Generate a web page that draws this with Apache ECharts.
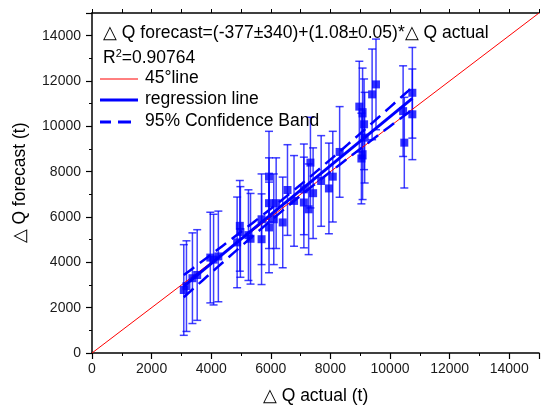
<!DOCTYPE html>
<html>
<head>
<meta charset="utf-8">
<script src="https://cdn.jsdelivr.net/npm/echarts@6/dist/echarts.min.js"></script>
<style>
html,body{margin:0;padding:0;background:#fff;}
#c{width:542px;height:410px;}
</style>
</head>
<body>
<div id="c"></div>
<script>
// ---- data ----
const actual = [3080,3170,3370,3530,3970,4080,4240,4870,4960,4980,5250,5320,5690,5690,5940,5940,5940,6100,6180,6400,6560,6780,7110,7110,7270,7330,7420,7690,7950,8080,8310,8970,9080,9130,9150,9080,9040,9400,9530,10440,10480,10750,10750];
const forecast = [2780,2950,3300,3440,4210,4120,4260,4880,5610,5340,5200,5040,5020,5900,7780,6610,5540,5900,6610,5760,7190,6710,6640,7220,6340,8400,7050,7590,7260,7780,8870,10870,10570,10090,9500,8770,8580,11410,11850,10670,9280,11480,10530];
const forecastErr = [2000,2000,2000,2000,2000,2000,2000,2000,2000,2000,2000,2000,2000,2000,2000,2000,2000,2000,2000,2000,2000,2000,2000,2000,2000,2000,2000,2000,2000,2000,2000,2000,2000,2000,2000,2000,2000,2000,2000,2000,2000,2000,2000];
const fitIntercept = -377;
const fitSlope = 1.08;
const tValue = 2.02;
const xTicks = [0,2000,4000,6000,8000,10000,12000,14000];
const yTicks = [0,2000,4000,6000,8000,10000,12000,14000];
const equationText = '\u25B3 Q forecast=(-377\u00B1340)+(1.08\u00B10.05)*\u25B3 Q actual';
const r2Text = '0.90764';
const legendNames = ['45\u00B0line','regression line','95% Confidence Band'];

// ---- derived: regression line and 95% confidence band ----
const n = actual.length;
const xMean = actual.reduce((a,b)=>a+b,0)/n;
const Sxx = actual.reduce((a,x)=>a+(x-xMean)*(x-xMean),0);
let sse = 0;
for (let i=0;i<n;i++){ const r = forecast[i]-(fitIntercept+fitSlope*actual[i]); sse += r*r; }
const s = Math.sqrt(sse/(n-2));
const xMin = Math.min(...actual), xMax = Math.max(...actual);
const fitLine = [[xMin, fitIntercept+fitSlope*xMin],[xMax, fitIntercept+fitSlope*xMax]];
const upper = [], lower = [];
for (let k=0;k<=60;k++){
  const x = xMin + (xMax-xMin)*k/60;
  const yh = fitIntercept + fitSlope*x;
  const h = tValue*s*Math.sqrt(1/n + (x-xMean)*(x-xMean)/Sxx);
  upper.push([x, yh+h]); lower.push([x, yh-h]);
}

const errData = actual.map((x,i)=>[x, forecast[i]-forecastErr[i], forecast[i]+forecastErr[i]]);
const pts = actual.map((x,i)=>[x, forecast[i]]);

const chart = echarts.init(document.getElementById('c'), null, {renderer:'canvas'});
const FONT = 'Liberation Sans, Arial, sans-serif';
const BLUE = '#0000ff';
const FS = 17.5;

chart.setOption({
  animation:false,
  backgroundColor:'#fff',
  grid:{left:92,right:-7,top:13,bottom:56,containLabel:false},
  xAxis:[{
    type:'value',min:0,max:15000,interval:2000,
    name:'\u25B3 Q actual (t)',nameLocation:'middle',nameGap:34,
    nameTextStyle:{fontFamily:FONT,fontSize:FS,color:'#000'},
    axisLine:{show:true,lineStyle:{color:'#000',width:1.5}},
    axisTick:{show:true,inside:false,length:6,lineStyle:{color:'#000',width:1.2}},
    minorTick:{show:true,splitNumber:2,length:3,lineStyle:{color:'#000',width:1}},
    axisLabel:{fontFamily:FONT,fontSize:14,color:'#1a1a1a',margin:9,
      formatter:v=>xTicks.indexOf(v)>=0?String(v):''},
    splitLine:{show:false}
  },{
    type:'value',min:0,max:15000,interval:1000,position:'top',
    axisLine:{show:true,onZero:false,lineStyle:{color:'#000',width:1.5}},
    axisTick:{show:true,inside:false,length:4,lineStyle:{color:'#000',width:1}},
    axisLabel:{show:false},splitLine:{show:false}
  }],
  yAxis:[{
    type:'value',min:0,max:15000,interval:2000,
    name:'\u25B3 Q forecast (t)',nameLocation:'middle',nameGap:63,
    nameTextStyle:{fontFamily:FONT,fontSize:FS,color:'#000'},
    axisLine:{show:true,lineStyle:{color:'#000',width:1.5}},
    axisTick:{show:true,inside:false,length:6,lineStyle:{color:'#000',width:1.2}},
    minorTick:{show:true,splitNumber:2,length:3,lineStyle:{color:'#000',width:1}},
    axisLabel:{fontFamily:FONT,fontSize:14,color:'#1a1a1a',margin:11,
      formatter:v=>yTicks.indexOf(v)>=0?String(v):''},
    splitLine:{show:false}
  }],
  series:[
    {
      type:'custom', name:'err', data:errData, z:2,
      renderItem:(params, api)=>{
        const x = api.value(0);
        const lo = api.coord([x, api.value(1)]);
        const hi = api.coord([x, api.value(2)]);
        const cw = 4;
        const st = {stroke:BLUE, lineWidth:1.5, opacity:0.75};
        return {type:'group', children:[
          {type:'line', shape:{x1:lo[0],y1:lo[1],x2:hi[0],y2:hi[1]}, style:st},
          {type:'line', shape:{x1:lo[0]-cw,y1:lo[1],x2:lo[0]+cw,y2:lo[1]}, style:st},
          {type:'line', shape:{x1:hi[0]-cw,y1:hi[1],x2:hi[0]+cw,y2:hi[1]}, style:st}
        ]};
      }
    },
    {
      type:'line', name:legendNames[0], data:[[0,0],[15000,15000]], z:3,
      symbol:'none', lineStyle:{color:'#ff0000',width:1}
    },
    {
      type:'scatter', name:'data', data:pts, z:4,
      symbol:'rect', symbolSize:8, itemStyle:{color:BLUE}
    },
    {
      type:'line', name:legendNames[1], data:fitLine, z:5,
      symbol:'none', lineStyle:{color:BLUE,width:3}
    },
    {
      type:'line', name:'upper', data:upper, z:5,
      symbol:'none', lineStyle:{color:BLUE,width:2.5,type:[13,7]}
    },
    {
      type:'line', name:'lower', data:lower, z:5,
      symbol:'none', lineStyle:{color:BLUE,width:2.5,type:[13,7]}
    }
  ],
  graphic:[
    {type:'text', left:103, top:24, z:10, style:{text:equationText, font:FS+'px '+FONT, fill:'#000'}},
    {type:'text', left:103, top:48, z:10, style:{
      text:'R{sup|2}='+r2Text, font:FS+'px '+FONT, fill:'#000',
      rich:{sup:{fontSize:11,fontFamily:FONT,verticalAlign:'top',padding:[0,0,9,0]}}
    }},
    {type:'line', z:10, shape:{x1:100,y1:79,x2:138,y2:79}, style:{stroke:'#ff0000',lineWidth:1}},
    {type:'text', left:145, top:69, z:10, style:{text:legendNames[0], font:FS+'px '+FONT, fill:'#000'}},
    {type:'line', z:10, shape:{x1:100,y1:100,x2:138,y2:100}, style:{stroke:BLUE,lineWidth:3}},
    {type:'text', left:145, top:90, z:10, style:{text:legendNames[1], font:FS+'px '+FONT, fill:'#000'}},
    {type:'line', z:10, shape:{x1:100,y1:122,x2:138,y2:122}, style:{stroke:BLUE,lineWidth:3,lineDash:[13,7],lineDashOffset:2}},
    {type:'text', left:145, top:112, z:10, style:{text:legendNames[2], font:FS+'px '+FONT, fill:'#000'}}
  ]
});
</script>
</body>
</html>
